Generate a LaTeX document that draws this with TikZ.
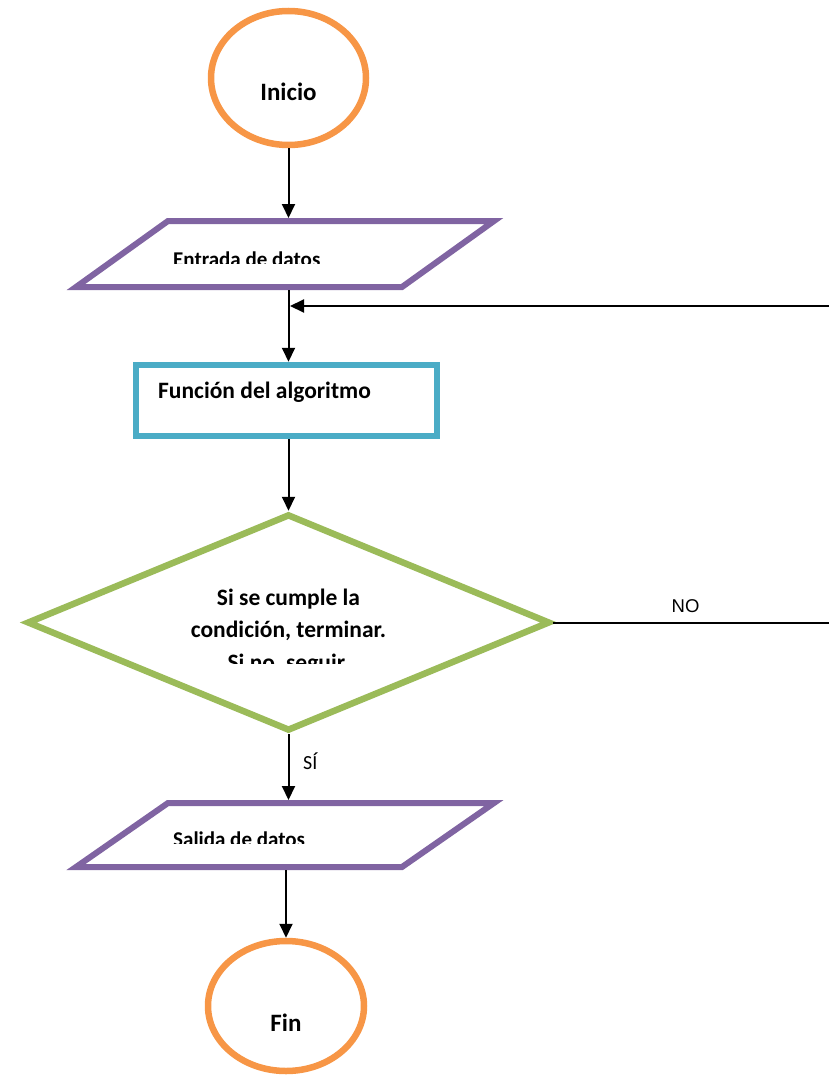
\documentclass[tikz,border=0pt]{standalone}
\usepackage{fontspec}
\setmainfont{Carlito}
\newfontfamily\arialfont{Liberation Sans}
\usetikzlibrary{shapes.geometric,arrows.meta}
\definecolor{termorange}{HTML}{F79646}
\definecolor{iopurple}{HTML}{8064A2}
\definecolor{procblue}{HTML}{4BACC6}
\definecolor{decgreen}{HTML}{9BBB59}
\begin{document}
\begin{tikzpicture}[x=1pt,y=-1pt,
  terminal/.style={ellipse,draw=termorange,line width=6.5pt,inner sep=0pt},
  iobox/.style={rectangle,draw=none,inner sep=0pt,outer sep=0pt},
  iopath/.style={draw=iopurple,line width=6pt,line join=miter},
  process/.style={rectangle,draw=procblue,line width=6.5pt,inner sep=0pt},
  decide/.style={diamond,draw=decgreen,line width=6.5pt,inner sep=0pt},
  flow/.style={line width=2pt,-{Triangle[width=13pt,length=14pt]}},
  plainline/.style={line width=2pt},
  bigtxt/.style={font=\bfseries\fontsize{25}{30}\selectfont,inner sep=0pt,anchor=base},
  proctxt/.style={font=\bfseries\fontsize{23.5}{28}\selectfont,inner sep=0pt,anchor=base west},
  iotxt/.style={font=\bfseries\fontsize{21}{25}\selectfont,inner sep=0pt,anchor=base west},
  dectxt/.style={font=\bfseries\fontsize{23.5}{32.5}\selectfont,inner sep=0pt,align=center,anchor=base},
  branchtxt/.style={inner sep=0pt,anchor=base west}
]
\useasboundingbox (0,0) rectangle (829,1078);

% start
\node[terminal,minimum width=155pt,minimum height=134pt] (inicio) at (288.5,78) {};
\node[bigtxt] (iniciotxt) at (288.5,101) {Inicio};

% data input
\node[iobox,minimum width=418pt,minimum height=66pt] (entrada) at (285,254) {};
\draw[iopath] (entrada.south west) -- ([xshift=92pt]entrada.north west)
  -- (entrada.north east) -- ([xshift=-92pt]entrada.south east) -- cycle;
\begin{scope}
  \clip (0,0) rectangle (829,263);
  \node[iotxt] (entradatxt) at (173,266) {Entrada de datos};
\end{scope}

% algorithm step
\node[process,minimum width=301pt,minimum height=71pt] (funcion) at (286.5,400.5) {};
\node[proctxt] (funciontxt) at (158,398) {Función del algoritmo};

% decision (the anchor is the baseline of the last line)
\node[decide,minimum width=523pt,minimum height=217pt] (decision) at (288.5,622.5) {};
\begin{scope}
  \clip (0,0) rectangle (829,663);
  \node[dectxt] (decisiontxt) at (288.5,670) {Si se cumple la\\condición, terminar.\\Si no, seguir.};
\end{scope}

% data output
\node[iobox,minimum width=418pt,minimum height=64pt] (salida) at (285,835) {};
\draw[iopath] (salida.south west) -- ([xshift=92pt]salida.north west)
  -- (salida.north east) -- ([xshift=-92pt]salida.south east) -- cycle;
\begin{scope}
  \clip (0,0) rectangle (829,843);
  \node[iotxt] (salidatxt) at (173,846) {Salida de datos};
\end{scope}

% end
\node[terminal,minimum width=156pt,minimum height=130pt] (fin) at (286,1006) {};
\node[bigtxt] (fintxt) at (286,1031) {Fin};

% connectors
\coordinate (loopin) at (829,306);
\coordinate (noend) at (829,622.5);
\draw[flow,shorten >=3pt] (inicio.south) -- (inicio.south |- entrada.north);
\draw[flow,shorten <=3pt] (inicio.south |- entrada.south) -- (inicio.south |- funcion.north);
\draw[flow,shorten >=1.5pt] (loopin) -- (loopin -| inicio.south);
\draw[flow] (inicio.south |- funcion.south) -- (decision.north);
\draw[plainline] (decision.east) -- (noend)
  node[pos=0.48,above=9pt,font=\arialfont\fontsize{18.5}{22}\selectfont,inner sep=0pt] (notxt) {NO};
\draw[flow,shorten >=3pt] (decision.south) -- (decision.south |- salida.north);
\node[branchtxt,font=\fontsize{20}{24}\selectfont] (sitxt) at (303,769) {SÍ};
\draw[flow,shorten <=3pt] (fin.north |- salida.south) -- (fin.north);
\end{tikzpicture}
\end{document}
